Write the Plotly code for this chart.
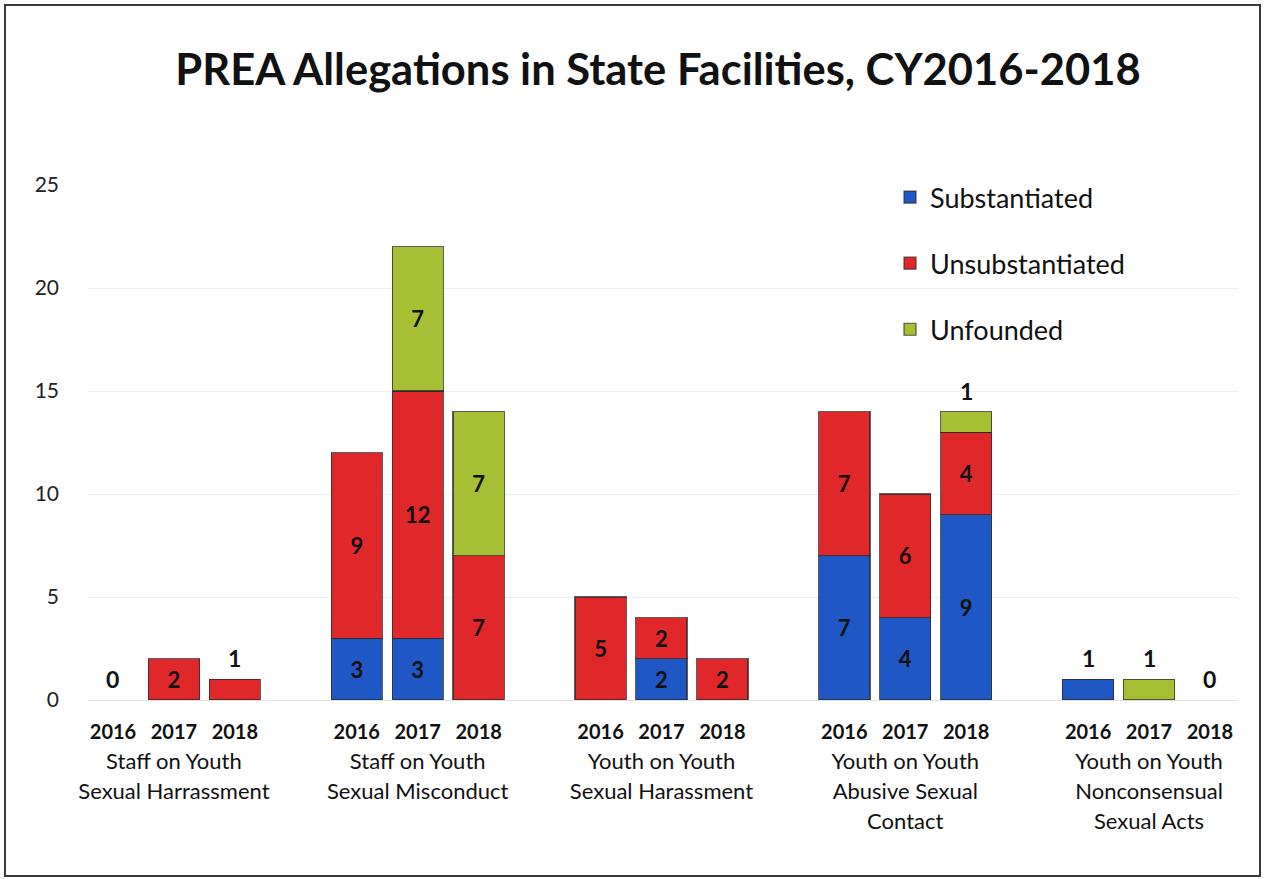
import plotly.graph_objects as go

# ---- data ----
categories = [
    "Staff on Youth<br>Sexual Harrassment",
    "Staff on Youth<br>Sexual Misconduct",
    "Youth on Youth<br>Sexual Harassment",
    "Youth on Youth<br>Abusive Sexual<br>Contact",
    "Youth on Youth<br>Nonconsensual<br>Sexual Acts",
]
years = ["2016", "2017", "2018"]
substantiated = [[0, 0, 0], [3, 3, 0], [0, 2, 0], [7, 4, 9], [1, 0, 0]]
unsubstantiated = [[0, 2, 1], [9, 12, 7], [5, 2, 2], [7, 6, 4], [0, 0, 0]]
unfounded = [[0, 0, 0], [0, 7, 7], [0, 0, 0], [0, 0, 1], [0, 1, 0]]

series = [
    ("Substantiated", substantiated, "#1f57c4"),
    ("Unsubstantiated", unsubstantiated, "#e0282a"),
    ("Unfounded", unfounded, "#a6bf35"),
]

FONT = "Lato"
GROUP_STEP = len(years) + 1

# positions: one empty slot between groups
xs, tickvals, ticktext = [], [], []
for g, cat in enumerate(categories):
    for j, yr in enumerate(years):
        pos = g * GROUP_STEP + j
        xs.append(pos)
        tickvals.append(pos)
        year_txt = f"<b><span style='font-size:20px'>{yr}</span></b>"
        if j == 1:
            ticktext.append(f"{year_txt}<br><span style='font-size:22px'>{cat}</span>")
        else:
            ticktext.append(year_txt)

fig = go.Figure()

cum = [0] * len(xs)
small = []
for name, vals, color in series:
    flat = [v for grp in vals for v in grp]
    ys = [v if v > 0 else None for v in flat]
    txt = [str(v) if v >= 2 else "" for v in flat]
    for i, v in enumerate(flat):
        cum[i] += v
        if v == 1:
            small.append((xs[i], cum[i], "1"))
    fig.add_trace(go.Bar(
        x=xs, y=ys, name=name, text=txt,
        textposition="inside", insidetextanchor="middle",
        textfont=dict(family=FONT, size=22, color="#111", weight="bold"),
        marker=dict(color=color, line=dict(color="rgba(40,40,40,0.75)", width=1.2)),
        width=0.84, legendgroup=name, cliponaxis=False,
        hoverinfo="skip",
    ))

for i, total in enumerate(cum):
    if total == 0:
        small.append((xs[i], 0, "0"))

for sx, sy, st in small:
    fig.add_annotation(x=sx, y=sy, text=f"<b>{st}</b>", showarrow=False,
                       xanchor="center", yanchor="bottom", yshift=5,
                       font=dict(family=FONT, size=23, color="#111"))

L, R, T, B = 88, 28, 185, 179
W, H = 1266, 879
pw, ph = W - L - R, H - T - B

def px_x(p):
    return (p - L) / pw

def px_y(p):
    return (H - B - p) / ph

fig.add_shape(type="rect", xref="paper", yref="paper",
              x0=px_x(5), x1=px_x(1260), y0=px_y(876), y1=px_y(5),
              line=dict(color="#3a3a3a", width=2), layer="below")

fig.update_layout(
    width=W, height=H,
    margin=dict(l=L, r=R, t=T, b=B, autoexpand=False),
    paper_bgcolor="white", plot_bgcolor="white",
    barmode="stack",
    title=dict(text="<b>PREA Allegations in State Facilities, CY2016-2018</b>",
               x=658 / W, xref="container", xanchor="center",
               y=1 - 70 / H, yref="container", yanchor="middle",
               font=dict(family=FONT, size=43.5, color="#111")),
    legend=dict(x=px_x(890), y=px_y(173), xanchor="left", yanchor="top",
                font=dict(family=FONT, size=27, color="#111"),
                traceorder="grouped", tracegroupgap=28,
                bgcolor="rgba(0,0,0,0)", itemwidth=30),
    xaxis=dict(range=[-0.41, 18.46], tickvals=tickvals, ticktext=ticktext,
               tickangle=0, automargin=False,
               tickfont=dict(family=FONT, size=23, color="#111"),
               showgrid=False, zeroline=False, showline=False, ticks="",
               ticklabelstandoff=15),
    yaxis=dict(range=[0, 25], dtick=5, tick0=0, automargin=False,
               tickfont=dict(family=FONT, size=21, color="#222"),
               showgrid=True, gridcolor="#eeeeee", gridwidth=1,
               zeroline=True, zerolinecolor="#e2e2e2", zerolinewidth=1,
               showline=False, ticks="", ticklabelstandoff=28),
    showlegend=True,
)

fig.write_html("out.html", config={"displayModeBar": False},
               post_script="document.body.style.margin='0';")
